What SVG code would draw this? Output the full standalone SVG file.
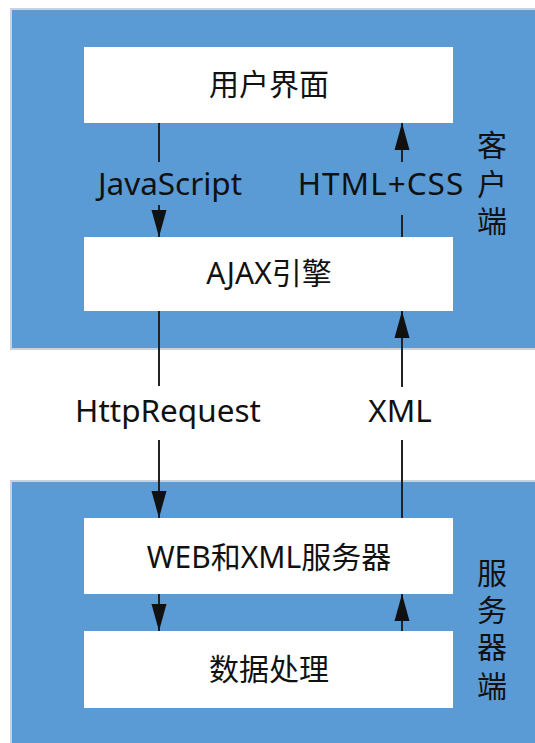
<svg xmlns="http://www.w3.org/2000/svg" width="535" height="743" viewBox="0 0 535 743">
<style>
.panel{fill:#5B9BD5}
.shadow{fill:#c9d2dc}
.box{fill:#ffffff}
.t{font-family:"Noto Sans","Noto Sans CJK SC",sans-serif;font-size:30px;fill:#111;text-anchor:middle}
.l{font-size:31.5px}
.c{fill:none;stroke:#222;stroke-width:2}
</style>
<defs>
<marker id="ah" markerUnits="userSpaceOnUse" markerWidth="27" markerHeight="16" refX="27" refY="8" orient="auto">
<path d="M0,0.5 L27,8 L0,15.5 z" fill="#111"/>
</marker>
</defs>
<rect width="535" height="743" fill="#ffffff"/>
<g id="client-panel">
<rect class="shadow" x="10" y="8" width="530" height="342"/>
<rect class="panel" x="12" y="10" width="530" height="338"/>
<text class="t" x="492" y="156">客</text>
<text class="t" x="492" y="195">户</text>
<text class="t" x="492" y="232">端</text>
</g>
<g id="server-panel">
<rect class="shadow" x="10" y="480" width="530" height="270"/>
<rect class="panel" x="12" y="482" width="530" height="270"/>
<text class="t" x="492" y="584">服</text>
<text class="t" x="492" y="621">务</text>
<text class="t" x="492" y="658">器</text>
<text class="t" x="492" y="697">端</text>
</g>
<g id="ui">
<rect class="box" x="84" y="47" width="369" height="76"/>
<text class="t" x="269" y="95">用户界面</text>
</g>
<g id="ajax">
<rect class="box" x="84" y="237" width="369" height="74"/>
<text class="t" x="269" y="284">AJAX引擎</text>
</g>
<g id="web">
<rect class="box" x="84" y="518" width="369" height="76"/>
<text class="t" x="269" y="568">WEB和XML服务器</text>
</g>
<g id="data">
<rect class="box" x="84" y="631" width="369" height="77"/>
<text class="t" x="269" y="680">数据处理</text>
</g>
<g id="connectors">
<path class="c" d="M159,123 L159,162"/>
<path class="c" d="M159,205 L159,237" marker-end="url(#ah)"/>
<path class="c" d="M402,237 L402,215"/>
<path class="c" d="M402,162 L402,123" marker-end="url(#ah)"/>
<path class="c" d="M159,311 L159,386"/>
<path class="c" d="M159,440 L159,518" marker-end="url(#ah)"/>
<path class="c" d="M402,518 L402,440"/>
<path class="c" d="M402,387 L402,311" marker-end="url(#ah)"/>
<path class="c" d="M159,594 L159,631" marker-end="url(#ah)"/>
<path class="c" d="M402,631 L402,594" marker-end="url(#ah)"/>
<text class="t l" x="170" y="195">JavaScript</text>
<text class="t l" x="381" y="195" letter-spacing="1">HTML+CSS</text>
<text class="t l" x="168" y="422">HttpRequest</text>
<text class="t l" x="400" y="422">XML</text>
</g>
</svg>
